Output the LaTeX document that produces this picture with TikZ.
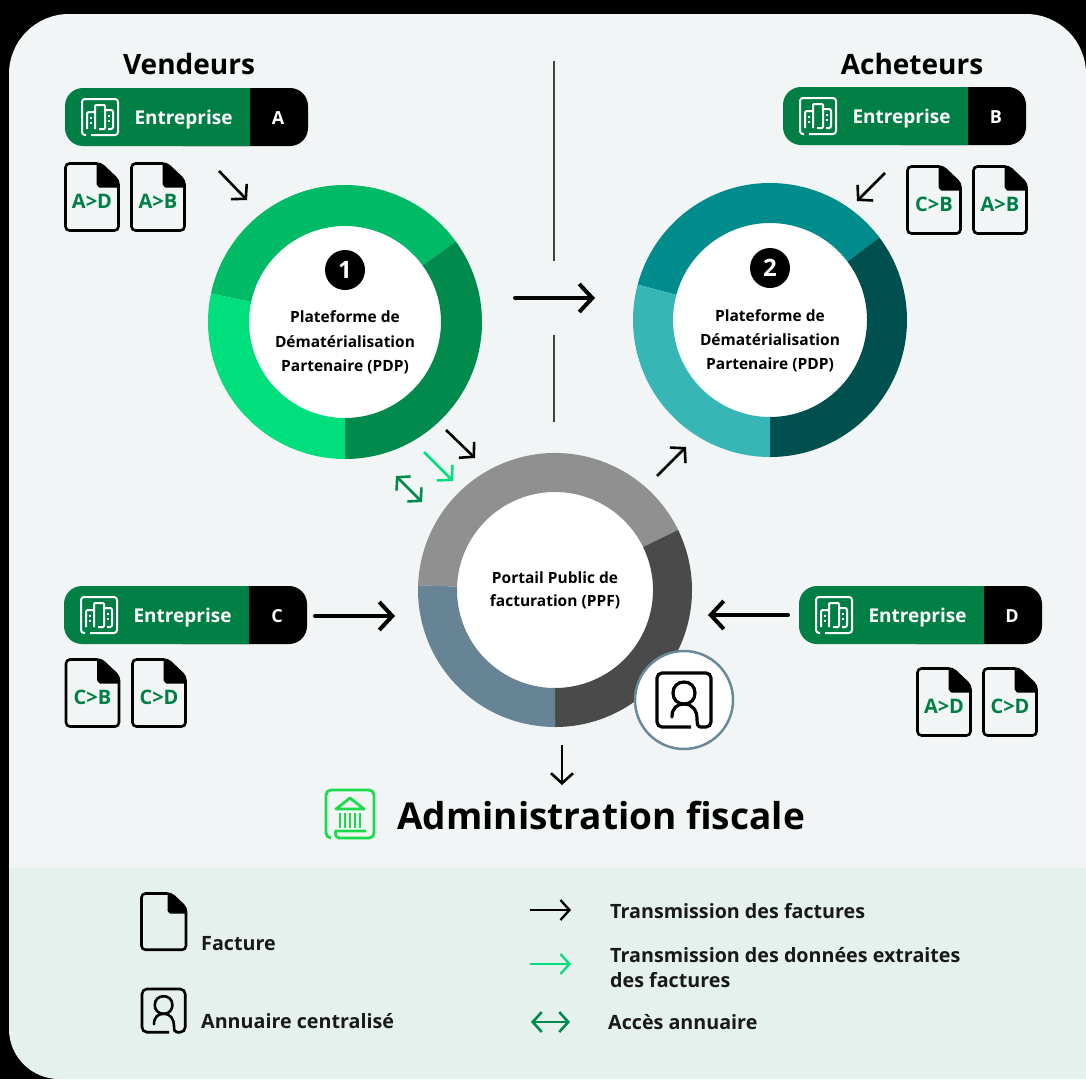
\documentclass[tikz,border=0pt]{standalone}
\usepackage{fontspec}
\setmainfont{Open Sans}
\usetikzlibrary{arrows.meta}
\definecolor{panel}{HTML}{F1F5F6}
\definecolor{legendbg}{HTML}{E5F1ED}
\definecolor{dgreen}{HTML}{007F45}
\definecolor{bgreen}{HTML}{00DF7B}
\definecolor{igreen}{HTML}{1BDB4A}
\definecolor{ga}{HTML}{00BA66}
\definecolor{gb}{HTML}{008A4B}
\definecolor{gc}{HTML}{00DF7B}
\definecolor{ta}{HTML}{008C8C}
\definecolor{tb}{HTML}{005050}
\definecolor{tc}{HTML}{38B5B5}
\definecolor{pa}{HTML}{909090}
\definecolor{pb}{HTML}{4A4A4A}
\definecolor{pc}{HTML}{678496}
\definecolor{ringedge}{HTML}{6A8A9C}
\tikzset{
  x=1pt,y=-1pt,
  arrowM/.style={line width=2.6pt,-{Straight Barb[length=10pt,width=22pt,line width=2.6pt]}},
  arrowB/.style={line width=4pt,line cap=round,-{Straight Barb[length=13pt,width=28pt,line width=4pt]}},
  arrowL/.style={line width=2.3pt,-{Straight Barb[length=9pt,width=20pt,line width=2.3pt]}},
  arrowD/.style={line width=2.6pt,{Straight Barb[length=9pt,width=20pt,line width=2.6pt]}-{Straight Barb[length=9pt,width=20pt,line width=2.6pt]}},
  ringtext/.style={font=\fontsize{15.5}{18}\selectfont\bfseries,text=black,inner sep=0pt},
  pilltext/.style={font=\fontsize{19}{24}\selectfont\bfseries,text=white,inner sep=0pt},
  legendtext/.style={font=\fontsize{19.7}{25}\selectfont\bfseries,text=black!90,inner sep=0pt,anchor=west,align=left},
  doctext/.style={font=\fontsize{20}{24}\selectfont\bfseries,text=dgreen,inner sep=0pt},
  headtext/.style={font=\fontsize{28}{34}\selectfont\bfseries,text=black,inner sep=0pt},
  numdot/.style={circle,fill=black,text=white,minimum size=40pt,inner sep=0pt,font=\fontsize{24}{28}\selectfont\bfseries},
}
% ring sector: screen start angle, screen end angle, inner radius, centre, colour
\newcommand{\ringseg}[5]{%
  \fill[#5] ([shift={(-#1:137)}]#4) arc[start angle=-#1,end angle=-#2,radius=137]
    -- ([shift={(-#2:#3)}]#4) arc[start angle=-#2,end angle=-#1,radius=#3] -- cycle;}
\newcommand{\docshape}[3]{%
  \begin{scope}[shift={(#1,#2)},scale=#3]
    \fill[black] (31,0) -- (35,0) -- (53,17) -- (53,24) -- (34,24) to[out=180,in=90] (31,21) -- cycle;
    \draw[line width=2.6pt,rounded corners=4pt] (35,0) -- (0,0) -- (0,67) -- (53,67) -- (53,17) -- cycle;
  \end{scope}}
\newcommand{\docicon}[4]{%
  \docshape{#1}{#2}{1}
  \node[doctext] (#4) at (#1+26.5,#2+38) {#3};}
\newcommand{\pill}[4]{%
  \begin{scope}[shift={(#1,#2)}]
    \fill[black,rounded corners=18pt] (100,0) rectangle (243,58);
    \fill[dgreen] (185,0) [rounded corners=18pt] -- (0,0) -- (0,58) [sharp corners] -- (185,58) -- cycle;
    \begin{scope}[shift={(17,11)},white,line width=2pt]
      \draw[rounded corners=3pt] (4,36) -- (0,36) -- (0,0) -- (36,0) -- (36,36) -- (9,36);
      \draw[rounded corners=2pt] (5,30) -- (5,13) -- (12,13);
      \draw[rounded corners=1pt] (13,30) -- (13,6) -- (23,6) -- (23,30) -- (17,30);
      \draw[rounded corners=2pt] (24,11) -- (31,11) -- (31,30) -- (26,30);
      \draw[dash pattern=on 2pt off 3pt] (9,18) -- (9,27);
      \draw[dash pattern=on 2pt off 3pt] (27,16) -- (27,25);
    \end{scope}
    \node[pilltext] (#3) at (118.5,31.5) {Entreprise};
    \node[font=\fontsize{18}{22}\selectfont\bfseries,text=white,inner sep=0pt] (#3L) at (213,30) {#4};
  \end{scope}}
\newcommand{\annuaire}[4]{%
  \begin{scope}[shift={(#1,#2)},scale=#3,line width=#4,black]
    \draw[rounded corners=5pt] (34,54) -- (0,54) -- (0,0) -- (54,0) -- (54,54) -- (44,54);
    \draw[line cap=round] (15,44) .. controls (15,35) and (20,31) .. (27,31)
      .. controls (36,31) and (40,38) .. (40,46) .. controls (40,52) and (41,54) .. (44,54);
    \draw (27,31) .. controls (20,31) and (16,26) .. (16,20) .. controls (16,13) and (21,9) .. (27,9)
      .. controls (33,9) and (38,13) .. (38,20) .. controls (38,26) and (34,31) .. (27,31);
  \end{scope}}
\begin{document}
\begin{tikzpicture}
\useasboundingbox (0,0) rectangle (1086,1079);
\fill[black] (0,0) rectangle (1086,1079);
% panels
\fill[panel] (9,868) -- (9,74) arc[start angle=180,end angle=270,radius=60] -- (1026,14) arc[start angle=270,end angle=360,radius=60] -- (1086,868) -- cycle;
\fill[legendbg] (9,868) -- (1086,868) -- (1086,1079) -- (59,1079) arc[start angle=90,end angle=180,radius=50] -- cycle;
% headings
\node[headtext] (vend) at (189,64) {Vendeurs};
\node[headtext] (ach) at (912,64) {Acheteurs};
% divider
\coordinate (d1a) at (554,61); \coordinate (d1b) at (554,261);
\coordinate (d2a) at (554,335); \coordinate (d2b) at (554,422);
\draw[line width=2.5pt,black!75] (d1a) -- (d1b);
\draw[line width=2.5pt,black!75] (d2a) -- (d2b);
% rings
\coordinate (c1) at (345,322);
\coordinate (c2) at (770,320);
\coordinate (c3) at (555,590);
\fill[white] (c1) circle[radius=100];
\fill[white] (c2) circle[radius=100];
\fill[white] (c3) circle[radius=100];
\ringseg{36}{168}{96}{c1}{ga}
\ringseg{-90}{36}{96}{c1}{gb}
\ringseg{168}{270}{96}{c1}{gc}
\ringseg{37}{165}{97}{c2}{ta}
\ringseg{-90}{37}{97}{c2}{tb}
\ringseg{165}{270}{97}{c2}{tc}
\ringseg{26}{178}{98}{c3}{pa}
\ringseg{-90}{26}{98}{c3}{pb}
\ringseg{178}{270}{98}{c3}{pc}
% ring labels
\node[numdot] (n1) at (345,270) {1};
\node[ringtext] (r1a) at (345,317) {Plateforme de};
\node[ringtext] (r1b) at (345,342) {Dématérialisation};
\node[ringtext] (r1c) at (345,367) {Partenaire (PDP)};
\node[numdot] (n2) at (770,268) {2};
\node[ringtext] (r2a) at (770,316) {Plateforme de};
\node[ringtext] (r2b) at (770,340) {Dématérialisation};
\node[ringtext] (r2c) at (770,365) {Partenaire (PDP)};
\node[ringtext] (r3a) at (555,578) {Portail Public de};
\node[ringtext] (r3b) at (555,602) {facturation (PPF)};
% companies
\pill{65}{88}{ea}{A}
\pill{783}{87}{eb}{B}
\pill{64}{586}{ec}{C}
\pill{799}{586}{ed}{D}
% invoices
\docicon{65.5}{163.5}{A>D}{da}
\docicon{131.5}{163.5}{A>B}{db}
\docicon{907.5}{166.5}{C>B}{dc}
\docicon{973.5}{166.5}{A>B}{dd}
\docicon{66}{659.5}{C>B}{de}
\docicon{132.5}{659.5}{C>D}{df}
\docicon{917.5}{668.5}{A>D}{dg}
\docicon{983.5}{668.5}{C>D}{dh}
% annuaire badge
\node[circle,draw=ringedge,line width=2.5pt,fill=white,minimum size=98pt,inner sep=0pt] (badge) at (684,700) {};
\annuaire{657}{673}{1}{3.2pt}
% arrows
\coordinate (a1) at (219,171); \coordinate (a2) at (247,200);
\coordinate (b1) at (885,173); \coordinate (b2) at (857,201);
\coordinate (c1a) at (515,298); \coordinate (c1b) at (595,298);
\coordinate (e1) at (446,430); \coordinate (e2) at (475,458);
\coordinate (f1) at (424,452); \coordinate (f2) at (453,481);
\coordinate (g1) at (396,476); \coordinate (g2) at (422,502);
\coordinate (h1) at (657,476); \coordinate (h2) at (686,447);
\coordinate (i1) at (315,616); \coordinate (i2) at (395,616);
\coordinate (j1) at (788,615); \coordinate (j2) at (708,615);
\coordinate (k1) at (562,745); \coordinate (k2) at (562,785);
\draw[arrowM] (a1) -- (a2);
\draw[arrowM] (b1) -- (b2);
\draw[arrowB] (c1a) -- (c1b);
\draw[arrowM] (e1) -- (e2);
\draw[arrowM,bgreen] (f1) -- (f2);
\draw[arrowD,gb] (g1) -- (g2);
\draw[arrowM] (h1) -- (h2);
\draw[arrowB] (i1) -- (i2);
\draw[arrowB] (j1) -- (j2);
\draw[arrowM] (k1) -- (k2);
% administration
\begin{scope}[igreen,line width=2.8pt]
  \draw[rounded corners=5pt] (331,838) -- (326,838) -- (326,790) -- (374,790) -- (374,838) -- (338,838);
  \draw[rounded corners=3pt] (339,838) .. controls (335,838) and (335,831) .. (339,831) -- (366,831);
  \draw[line join=round] (336,809) -- (350,798) -- (364,809) -- cycle;
  \draw[line width=2.2pt] (340,813) -- (340,828) (345,813) -- (345,828) (350,813) -- (350,828) (355,813) -- (355,828) (360,813) -- (360,828);
\end{scope}
\node[font=\fontsize{37}{42}\selectfont\bfseries,text=black,inner sep=0pt,anchor=west] (adm) at (397,816) {Administration fiscale};
% legend
\docshape{141.5}{893.5}{0.84}
\annuaire{142}{989}{0.8}{2.6pt}
\node[legendtext] (lf) at (201,944) {Facture};
\node[legendtext] (la) at (201,1021) {Annuaire centralisé};
\node[legendtext] (l1) at (610,911) {Transmission des factures};
\node[legendtext] (l2) at (610,968) {Transmission des données extraites\\des factures};
\node[legendtext] (l3) at (608,1022) {Accès annuaire};
\coordinate (m1) at (530,910); \coordinate (m2) at (571,910);
\coordinate (o1) at (530,964); \coordinate (o2) at (571,964);
\coordinate (p1) at (531,1022); \coordinate (p2) at (570,1022);
\draw[arrowL] (m1) -- (m2);
\draw[arrowL,bgreen] (o1) -- (o2);
\draw[arrowD,gb] (p1) -- (p2);
\end{tikzpicture}
\end{document}
